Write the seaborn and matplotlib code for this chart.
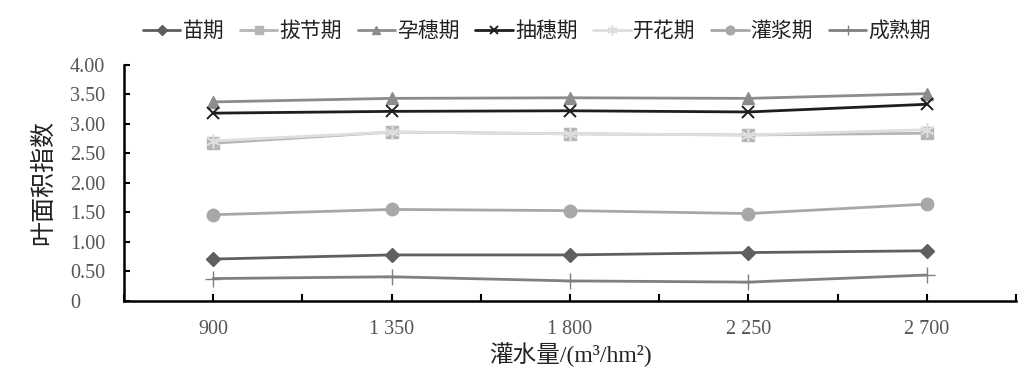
import matplotlib
matplotlib.use("Agg")
import matplotlib.pyplot as plt
import seaborn as sns
import pandas as pd
import numpy as np
from matplotlib.ticker import FixedLocator, FuncFormatter

sns.set_theme(style="white")
plt.rcParams['font.family'] = ['Liberation Serif', 'Noto Sans CJK SC']

# ---- data ----
water = ["900", "1 350", "1 800", "2 250", "2 700"]
stages = ["苗期", "拔节期", "孕穗期", "抽穗期", "开花期", "灌浆期", "成熟期"]
miaoqi = [0.71, 0.78, 0.78, 0.82, 0.85]
bajieqi = [2.67, 2.86, 2.83, 2.81, 2.84]
yunsuiqi = [3.37, 3.43, 3.44, 3.43, 3.51]
chousuiqi = [3.18, 3.21, 3.22, 3.20, 3.33]
kaihuaqi = [2.71, 2.86, 2.83, 2.81, 2.90]
guanjiangqi = [1.46, 1.55, 1.53, 1.48, 1.64]
chengshuqi = [0.38, 0.41, 0.34, 0.32, 0.44]
yticks = [0, 0.5, 1.0, 1.5, 2.0, 2.5, 3.0, 3.5, 4.0]

series = [miaoqi, bajieqi, yunsuiqi, chousuiqi, kaihuaqi, guanjiangqi, chengshuqi]
rows = []
for s, vals in zip(stages, series):
    for i, v in enumerate(vals):
        rows.append({"stage": s, "idx": i, "lai": v})
df = pd.DataFrame(rows)

colors = {"苗期": "#5f5f5f", "拔节期": "#b5b5b5", "孕穗期": "#8c8c8c", "抽穗期": "#1e1e1e",
          "开花期": "#dedede", "灌浆期": "#a8a8a8", "成熟期": "#808080"}
markers = {"苗期": "D", "拔节期": "s", "孕穗期": "^", "抽穗期": "x",
           "开花期": (6, 2, 0), "灌浆期": "o", "成熟期": "+"}
msize = {"苗期": 7.5, "拔节期": 8, "孕穗期": 9, "抽穗期": 9,
         "开花期": 10, "灌浆期": 9, "成熟期": 11}
mew = {"苗期": 1, "拔节期": 1, "孕穗期": 1, "抽穗期": 1.4,
       "开花期": 1.2, "灌浆期": 1, "成熟期": 1.0}

fig = plt.figure(figsize=(10.26, 3.74), dpi=100)
ax = fig.add_axes([124/1026, 1-301/374, (1016-124)/1026, (301-64.7)/374])

for s in stages:
    sub = df[df["stage"] == s]
    sns.lineplot(data=sub, x="idx", y="lai", ax=ax, color=colors[s], marker=markers[s],
                 markersize=msize[s], markeredgewidth=mew[s], markeredgecolor=colors[s],
                 linewidth=2.0, label=s, sort=False)

ax.set_xlim(-0.5, 4.5)
ax.set_ylim(0, 4.0)
ax.xaxis.set_major_locator(FixedLocator(range(len(water))))
ax.set_xticklabels(water)
ax.xaxis.set_minor_locator(FixedLocator(np.arange(-0.5, 4.6, 1.0)))
ax.set_yticks(yticks)
ax.yaxis.set_major_formatter(FuncFormatter(lambda v, p: "0" if v == 0 else f"{v:.2f}"))

for sp in ["top", "right"]:
    ax.spines[sp].set_visible(False)
for sp in ["left", "bottom"]:
    ax.spines[sp].set_color("black")
    ax.spines[sp].set_linewidth(1.8)

ax.tick_params(axis="x", which="both", direction="in", length=5, width=1.5,
               colors="black", labelcolor="#555555", labelsize=14.5, pad=14, bottom=True)
ax.tick_params(axis="y", which="major", direction="in", length=4, width=1.5, colors="black",
               labelcolor="#555555", labelsize=14.5, pad=39, left=True)
for lab in ax.get_yticklabels():
    lab.set_horizontalalignment("left")

ax.set_xlabel("灌水量/(m³/hm²)", fontsize=17, color="#222222", labelpad=2)
ax.set_ylabel("叶面积指数", fontsize=18, color="#222222", labelpad=11)

leg = ax.legend(loc="center", bbox_to_anchor=(537/1026, 1-32/374), bbox_transform=fig.transFigure,
                ncol=7, frameon=False, fontsize=15, handlelength=1.8, handletextpad=0.1,
                columnspacing=0.75, markerscale=0.7)
for t in leg.get_texts():
    t.set_color("#222222")

fig.savefig("out.png", dpi=100, facecolor="white")
